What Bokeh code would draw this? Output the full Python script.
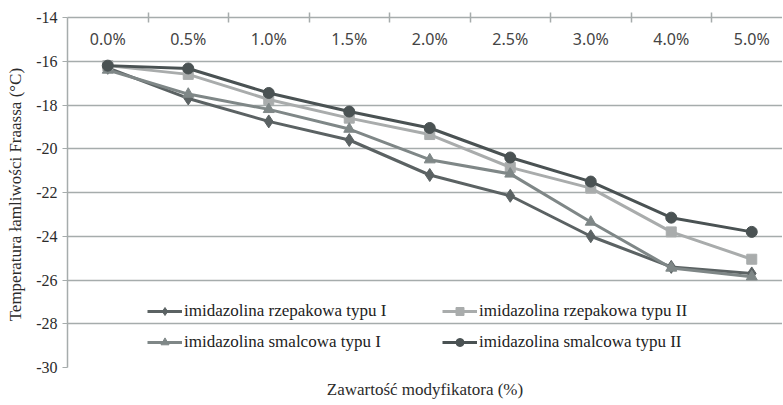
from bokeh.plotting import figure
from bokeh.models import (Range1d, FixedTicker, LinearAxis, Legend, LegendItem,
                          ColumnDataSource)
from bokeh.core.properties import value
from bokeh.embed import file_html
from bokeh.resources import INLINE

# ---- data ----
categories = ["0.0%", "0.5%", "1.0%", "1.5%", "2.0%", "2.5%", "3.0%", "4.0%", "5.0%"]
rzepakowa_I = [-16.3, -17.7, -18.75, -19.6, -21.2, -22.15, -24.0, -25.4, -25.7]
rzepakowa_II = [-16.2, -16.6, -17.75, -18.6, -19.35, -20.85, -21.8, -23.8, -25.05]
smalcowa_I = [-16.4, -17.5, -18.2, -19.1, -20.5, -21.15, -23.35, -25.45, -25.85]
smalcowa_II = [-16.2, -16.33, -17.45, -18.3, -19.05, -20.4, -21.5, -23.15, -23.8]
y_ticks = [-30, -28, -26, -24, -22, -20, -18, -16, -14]

series = [
    ("imidazolina rzepakowa typu I", rzepakowa_I, "#5b6263", "diamond", 13),
    ("imidazolina rzepakowa typu II", rzepakowa_II, "#a9acac", "square", 10),
    ("imidazolina smalcowa typu I", smalcowa_I, "#7f8787", "triangle", 11),
    ("imidazolina smalcowa typu II", smalcowa_II, "#4a5253", "circle", 11),
]

xs = [i + 0.5 for i in range(len(categories))]
SERIF = "Liberation Serif"
GRID = "#a6acac"
FW = 715

p = figure(frame_width=FW, frame_height=350, output_backend="svg",
           toolbar_location=None, x_axis_location="above",
           x_range=Range1d(0, FW / 80.5), y_range=Range1d(-30, -14),
           min_border_left=67, min_border_right=0, min_border_top=17,
           min_border_bottom=36)
p.outline_line_color = None
p.background_fill_color = "white"
p.border_fill_color = "white"

# top axis (category boundaries)
bounds = list(range(1, len(categories)))
xa = p.xaxis[0]
xa.ticker = FixedTicker(ticks=bounds)
xa.major_label_overrides = {b: "" for b in bounds}
xa.major_tick_in = 5
xa.major_tick_out = 5
xa.minor_tick_line_color = None
xa.axis_line_color = GRID
xa.major_tick_line_color = GRID
xa.axis_line_width = 1.5
xa.major_tick_line_width = 1.5
p.xgrid.visible = False

# left axis
ya = p.yaxis[0]
ya.ticker = FixedTicker(ticks=y_ticks)
ya.major_label_overrides = {t: str(t) for t in y_ticks}
ya.minor_tick_line_color = None
ya.major_tick_in = 0
ya.major_tick_out = 5
ya.major_label_standoff = 5
ya.axis_line_color = GRID
ya.major_tick_line_color = GRID
ya.axis_line_width = 1.5
ya.major_label_text_font = SERIF
ya.major_label_text_font_size = "16px"
ya.major_label_text_color = "#2b2b2b"
ya.axis_label = "Temperatura łamliwości  Fraassa (°C)"
ya.axis_label_text_font = SERIF
ya.axis_label_text_font_size = "17px"
ya.axis_label_text_font_style = "normal"
ya.axis_label_text_color = "#2b2b2b"
ya.axis_label_standoff = 8

p.ygrid.ticker = FixedTicker(ticks=y_ticks)
p.ygrid.grid_line_color = GRID
p.ygrid.grid_line_width = 1.5

# bottom title axis
ba = LinearAxis(ticker=FixedTicker(ticks=[]), axis_line_color=None,
                major_tick_line_color=None, minor_tick_line_color=None,
                axis_label="Zawartość modyfikatora (%)",
                axis_label_text_font=SERIF, axis_label_text_font_size="17px",
                axis_label_text_font_style="normal",
                axis_label_text_color="#2b2b2b", axis_label_standoff=12)
p.add_layout(ba, "below")

# category labels inside the plot, below the top axis
p.text(x=xs, y=[-15] * len(categories), text=categories,
       text_font=value("Noto Sans"), text_font_size="16px",
       text_color="#444444", text_align="center", text_baseline="middle")

items = []
for name, vals, color, marker, size in series:
    src = ColumnDataSource(dict(x=xs, y=vals))
    lr = p.line("x", "y", source=src, line_color=color, line_width=3)
    sr = p.scatter("x", "y", source=src, marker=marker, size=size,
                   fill_color=color, line_color=color)
    items.append(LegendItem(label=name, renderers=[lr, sr]))

def make_legend(its, x):
    lg = Legend(items=its, location=(x, 15), orientation="vertical",
                background_fill_alpha=0, border_line_color=None,
                padding=0, margin=0, spacing=11, glyph_width=35,
                glyph_height=20, label_height=20, label_standoff=2,
                label_text_font=SERIF, label_text_font_size="17px",
                label_text_color="#222222")
    return lg

p.add_layout(make_legend([items[0], items[2]], 80), "center")
p.add_layout(make_legend([items[1], items[3]], 375), "center")

open("out.html", "w").write(file_html(p, INLINE))
